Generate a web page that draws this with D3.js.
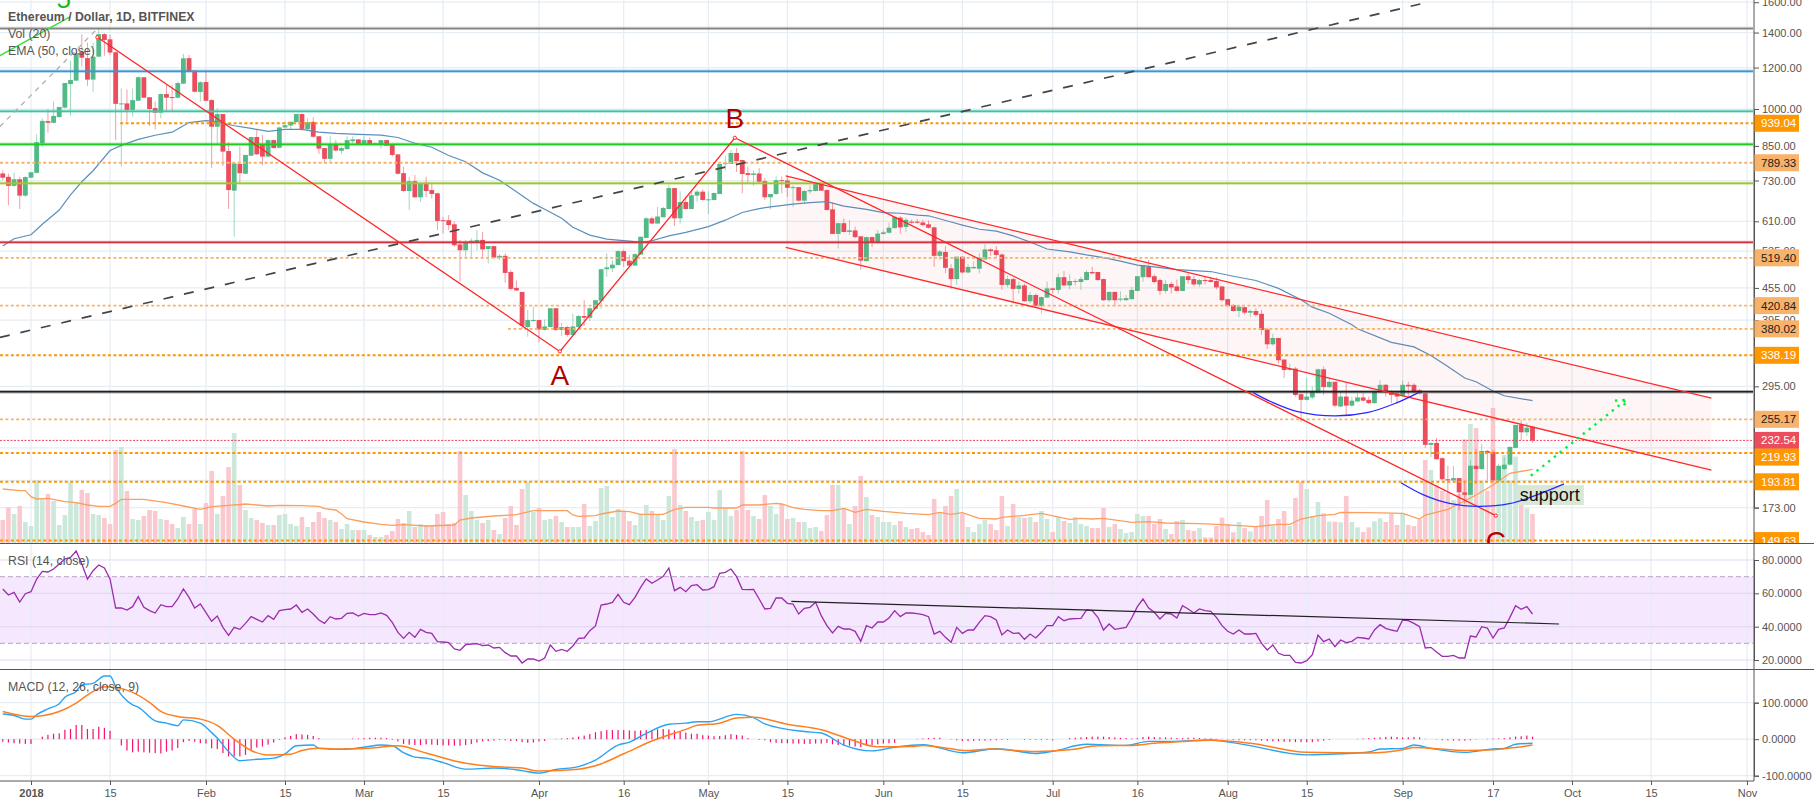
<!DOCTYPE html>
<html>
<head>
<meta charset="utf-8">
<title>Ethereum / Dollar, 1D, BITFINEX</title>
<script src="https://cdn.jsdelivr.net/npm/d3@7"></script>
<style>
    html, body { margin: 0; padding: 0; background: #fff; overflow: hidden; }
    text { font-family: "Liberation Sans", Arial, sans-serif; }
</style>
</head>
<body>
<svg id="canvas" width="1814" height="805"></svg>
<script>
// daily candles, first one is 5 days before 2018-01-01
const firstDay = -5;
const opens = [
    753,742,713,734,683,739,755,860,948,941,
    965,1006,1116,1133,1288,1251,1138,1259,1390,1359,
    1284,1022,1025,996,1037,1150,1053,1004,984,1068,
    1054,1051,1118,1251,1184,1078,1126,1040,925,978,
    831,698,785,752,814,884,857,811,872,843,
    922,930,944,978,915,945,887,842,803,857,
    832,838,868,875,855,872,855,856,872,853,
    819,754,697,728,678,723,700,690,613,613,
    602,551,537,556,556,562,540,547,520,524,
    488,455,447,383,394,395,378,383,416,378,
    383,370,383,402,399,415,430,494,496,503,
    535,513,502,527,567,618,604,621,644,706,
    618,664,644,683,695,670,670,688,785,785,
    824,799,754,748,753,728,678,688,731,730,
    707,709,668,696,697,719,700,643,577,605,
    582,586,571,512,569,555,577,580,592,620,
    595,609,609,607,602,594,524,533,496,473,
    522,487,496,495,516,539,537,527,461,473,
    453,460,429,441,420,436,454,451,477,460,
    467,467,471,488,488,473,431,447,432,431,
    433,449,477,500,479,471,449,463,458,449,
    479,473,462,471,471,469,458,433,422,411,
    418,408,411,406,379,355,365,332,317,319,
    285,278,281,287,318,294,301,270,282,271,
    276,281,278,274,288,297,287,286,283,297,
    297,290,286,228,230,215,196,195,197,185,
    183,208,205,222,221,195,205,209,225,249,
    241,247];
const highs = [
    764,753,756,742,744,757,894,960,999,1033,
    1009,1121,1237,1281,1389,1339,1339,1428,1396,1385,
    1288,1095,1090,1095,1156,1150,1053,1033,1071,1112,
    1112,1128,1275,1268,1187,1131,1184,1044,1003,978,
    864,789,847,817,885,914,892,875,872,925,
    947,947,978,981,960,964,887,842,887,872,
    847,887,887,875,887,882,862,872,872,857,
    819,776,742,748,723,742,719,692,622,627,
    610,562,562,566,587,582,547,547,528,530,
    492,470,447,413,419,396,396,416,416,390,
    385,406,404,431,418,432,494,530,514,537,
    539,526,530,570,622,623,650,650,716,706,
    696,679,696,700,702,696,692,785,813,835,
    842,799,776,764,771,738,688,743,743,745,
    715,710,700,715,726,719,702,663,606,618,
    613,596,571,570,570,587,587,606,624,624,
    620,615,616,614,612,596,537,547,505,522,
    522,505,511,530,552,541,547,530,480,476,
    468,464,447,444,438,468,455,485,490,483,
    474,478,492,499,488,474,448,448,448,441,
    457,479,503,515,483,474,471,467,472,479,
    484,479,473,478,478,477,458,434,424,422,
    419,414,416,413,381,372,365,332,326,321,
    286,306,295,319,322,306,301,288,299,282,
    286,287,282,290,303,298,290,288,303,301,
    299,292,287,230,235,216,208,208,197,195,
    213,224,229,223,223,210,216,226,249,254,
    251,247];
const lows = [
    731,655,710,644,679,737,753,847,901,939,
    963,1003,971,1131,1205,1107,1079,1259,1264,1268,
    872,776,946,967,1036,1048,928,914,960,991,
    988,1048,1116,1178,1075,1033,1033,772,853,778,
    644,570,719,751,813,817,781,809,841,841,
    920,912,942,909,912,881,820,791,791,829,
    820,837,860,854,854,854,852,841,850,811,
    750,695,641,677,665,679,674,587,578,587,
    545,468,518,518,537,518,507,518,514,466,
    450,449,380,367,392,358,377,383,377,368,
    367,369,380,385,393,414,415,478,488,503,
    499,501,501,526,566,602,604,621,643,598,
    604,643,643,665,668,630,668,688,764,785,
    758,690,723,713,721,670,643,685,690,679,
    650,665,660,688,696,697,641,577,541,581,
    574,566,493,511,545,553,575,578,590,578,
    581,604,604,596,591,499,514,486,453,461,
    485,485,495,485,514,524,520,451,456,425,
    444,428,425,419,406,435,444,444,458,452,
    460,451,470,485,470,430,428,420,428,430,
    432,448,467,476,464,441,444,444,448,448,
    464,458,457,462,466,452,429,419,410,400,
    404,400,401,370,348,353,326,306,316,282,
    252,277,279,286,284,293,269,269,259,270,
    275,276,273,273,287,282,274,274,282,282,
    286,284,225,216,214,195,184,194,171,176,
    183,192,204,195,194,194,204,208,225,233,
    237,230];
const closes = [
    739,713,734,683,741,757,864,949,941,970,
    1009,1121,1136,1278,1253,1138,1259,1390,1355,1282,
    1023,1025,996,1040,1150,1051,1000,984,1068,1051,
    1051,1121,1250,1180,1079,1125,1037,925,978,829,
    700,787,754,817,884,819,811,872,842,922,
    931,945,978,916,943,885,840,803,857,833,
    842,872,875,855,872,855,860,872,851,817,
    752,697,728,678,722,697,688,611,611,600,
    549,537,557,560,562,539,547,520,524,486,
    453,450,385,395,395,379,384,416,378,383,
    370,384,402,399,416,431,494,498,504,535,
    512,502,528,570,618,604,623,647,706,618,
    664,644,684,695,670,672,691,785,788,824,
    795,751,748,753,726,678,688,731,728,707,
    709,668,697,700,719,698,641,577,605,582,
    586,569,513,569,555,578,581,593,622,594,
    614,606,606,600,593,524,534,497,473,522,
    487,499,499,520,539,535,526,461,473,453,
    460,429,441,420,437,454,451,477,460,469,
    469,473,488,485,471,431,447,431,434,435,
    451,479,503,477,467,449,463,456,449,479,
    471,462,471,469,467,456,431,420,411,419,
    408,411,404,378,355,365,331,317,319,284,
    278,282,289,318,294,301,271,282,271,277,
    281,277,274,289,297,288,284,282,297,295,
    288,286,228,230,214,196,195,197,185,183,
    208,205,222,220,195,208,209,226,249,241,
    246,232.54];
const volumes = [
    69,107,87,111,63,51,189,131,147,126,
    54,84,183,123,159,150,87,84,75,57,
    279,288,156,72,69,81,99,96,72,69,
    57,45,78,57,102,57,120,216,87,141,
    228,330,174,99,75,69,60,54,54,84,
    87,57,51,78,48,63,93,75,69,63,
    42,57,39,39,39,24,18,18,24,36,
    72,60,96,48,57,54,51,87,93,57,
    60,276,144,96,69,60,69,39,27,75,
    111,54,162,183,93,105,69,72,81,63,
    48,48,48,117,51,66,165,171,78,102,
    96,66,54,87,114,96,87,69,141,282,
    114,96,78,66,69,93,69,159,102,81,
    99,276,99,81,72,144,111,87,117,72,
    75,63,63,45,48,36,84,174,174,102,
    57,111,201,138,84,78,63,63,54,66,
    48,42,45,33,24,132,90,111,141,162,
    87,48,33,57,69,57,39,141,51,117,
    78,75,78,63,96,72,33,78,66,60,
    78,57,51,45,45,105,48,57,42,30,
    33,87,81,81,57,72,42,27,66,69,
    39,36,45,17,17,51,76,57,32,63,
    45,35,49,81,129,52,72,96,51,135,
    183,162,81,123,89,64,64,62,141,63,
    47,33,47,65,74,63,87,54,87,54,
    51,71,249,219,174,157,149,129,147,311,
    357,345,184,157,405,204,264,187,259,144,
    104,87];
const rsiValues = [
    62.6,59,60.6,54.8,59.8,61,68.6,73.2,72.8,74.6,
    77.6,80.6,81.6,85.4,77.6,68.6,73.6,77,75.2,68.6,
    51.2,51.2,50,52,58,51.6,49.6,48.2,53.2,52,
    52,56.6,62.6,57.6,51.2,53.6,48.4,43.2,46.4,39.6,
    34.8,39.6,38.4,42,46,44.4,42.8,46.6,44.4,49.6,
    50.2,50.6,53,48.6,50.6,47.6,44,42,46,44.6,
    45,48,48.2,46.4,48,47.2,47.2,48.2,46.8,42.6,
    36.6,33,36.6,33.6,38.4,36.6,36,31,30.8,30.4,
    26.6,25.8,29.2,29.6,29.8,28.6,29,27.2,27.6,24.4,
    22.4,22.4,18.2,20.6,20.6,19.4,21.2,29,25.2,26.4,
    25.2,28.4,33,33.2,37.6,40.4,53,53.6,54.6,59.4,
    54.6,53.2,57.6,63.6,68.6,66,68,70.2,75.2,61.6,
    63.6,61,64.6,65.2,62,62.2,64,72,72.6,74.6,
    70,62.4,62.2,62.4,56.6,50.6,51,57.2,57.2,54,
    53.6,47.6,51,51.6,54.6,46.6,40.6,36.2,40.2,38.6,
    38.6,37.2,31.2,40.6,39.2,42.8,42.8,45.2,49.6,46,
    48.2,48.2,47.8,47.2,46,35.6,37.2,33.6,30.6,39.6,
    36,38,38,42.6,46.6,46,44,35,38,36,
    36.2,32.4,35.6,33.2,36.6,40.6,40.6,46,43.6,44.6,
    44.8,45,50,49.6,45.6,38,41.6,38.4,39,39.6,
    45.2,52,56.6,51.2,48.6,44.6,48,47.6,45.2,52.6,
    50.6,48.2,50.6,49.6,49.2,45.6,40.6,37.2,35.6,38,
    35.6,35.6,36,30,26,29,24,22.8,22.8,18.6,
    18.2,19.6,23.2,35,31,32.6,28,32,30.4,31.2,
    33.6,33.2,32.6,38,41.2,39,38,37.2,44,43.6,
    42,40,27.2,27.6,24.8,22.2,22.2,22.8,21.2,21.2,
    34.4,33.8,40,39.2,33.2,38.4,39.2,45.6,52.6,50.4,
    52,47.6];
const macdHist = [
    -7,-9,-11,-12,-13,-13,0,7,12,15,
    16,26,28,39,39,28,28,34,31,23,
    0,-17,-31,-36,-34,-36,-37,-38,-39,-34,
    -31,-24,-8,-5,-7,-11,-12,-25,-27,-38,
    -47,-47,-47,-43,-29,-23,-20,-15,-9,-2,
    5,9,14,13,12,9,3,0,0,0,
    0,0,2,2,3,4,4,4,3,-2,
    -6,-13,-15,-16,-16,-14,-15,-16,-17,-17,
    -18,-18,-16,-13,-9,-6,-5,-4,-2,-3,
    -5,-5,-8,-10,-9,-6,-5,0,1,2,
    3,5,7,10,14,19,22,25,25,25,
    25,24,23,24,25,25,27,28,27,24,
    21,18,15,15,11,10,8,9,11,14,
    12,10,3,0,-2,-3,-8,-10,-11,-11,
    -12,-12,-13,-13,-12,-12,-10,-14,-16,-17,
    -18,-20,-22,-18,-16,-14,-12,-11,-10,0,
    0,0,1,2,3,4,4,0,-1,-3,
    -5,-5,-5,-4,-4,-3,-3,-2,-2,0,
    0,-2,-2,-2,-2,-2,-3,0,0,3,
    4,5,6,7,7,7,6,5,4,3,
    2,3,6,7,6,5,5,4,3,3,
    4,4,3,2,2,1,1,-1,-2,-3,
    -3,-3,-3,-4,-5,-6,-6,-7,-7,-8,
    -8,-8,-8,-6,-4,-2,0,0,0,0,
    1,2,3,4,5,6,7,6,5,5,
    6,5,1,0,-1,-3,-3,-4,-4,-4,
    -3,-1,0,1,2,2,3,5,7,8,
    10,7];

// smooth lines, read at their bends
const emaDays = [-5,-3,0,2,5,7,9,11,14,16,19,22,25,28,31,33,36,39,42,45,48,51,54,58,62,65,68,71,74,77,80,83,86,89,91,94,96,99,102,106,108,110,113,116,120,123,126,129,131,135,138,141,144,148,151,154,157,159,163,165,168,171,174,177,180,184,187,190,193,196,199,203,209,213,217,221,225,227,230,234,235,241,245,248,251,254,256,259,261,266];
const emaValues = [547,565,575,602,641,685,726,762,833,852,875,891,903,942,950,946,929,918,906,914,914,903,898,894,891,882,860,845,815,793,755,731,695,660,643,618,594,574,564,559,556,560,572,581,596,613,634,645,650,658,662,665,652,643,634,632,627,625,608,600,589,584,572,557,540,533,526,520,512,503,499,493,489,479,470,454,432,418,407,387,380,358,351,338,322,306,301,289,283,277];
const volMaDays = [-5,-2,-1,0,1,3,6,8,10,12,14,15,16,20,24,27,30,32,35,38,42,44,48,51,52,54,55,56,59,62,64,66,70,75,76,78,82,86,89,95,96,97,100,101,104,106,108,112,114,116,120,121,125,126,129,132,133,135,137,140,142,144,146,148,151,155,159,161,163,165,168,171,172,176,179,184,186,188,190,195,198,201,207,211,217,221,223,225,228,231,232,237,243,246,247,251,256,259,262,266];
const volMaValues = [162,157,157,139,132,134,124,121,114,110,110,119,131,131,121,111,101,109,113,117,111,113,112,110,103,99,87,73,63,56,53,55,51,54,69,75,81,85,97,97,84,80,82,87,96,94,86,86,101,107,107,105,105,114,114,119,117,106,101,97,97,104,92,101,95,89,85,92,86,91,74,72,77,83,89,71,74,72,74,62,64,60,58,55,49,56,56,72,82,86,92,91,89,72,84,101,144,174,209,221];
const macdDays = [-5,-3,-1,0,1,3,5,6,8,9,11,13,14,15,18,19,22,24,26,27,30,32,33,35,37,40,43,45,47,50,51,55,59,62,64,66,68,70,73,77,82,87,90,93,97,100,104,106,109,113,116,118,120,125,128,130,137,140,144,149,153,158,165,171,178,181,187,194,198,202,209,215,226,232,237,239,243,245,248,254,259,261,263,266];
const macdValues = [69,65,55,55,67,83,97,115,131,149,153,173,173,144,94,88,50,44,37,53,44,18,3,-34,-59,-55,-52,-40,-18,-16,-25,-28,-22,-16,-18,-37,-49,-52,-64,-82,-79,-86,-93,-83,-75,-57,-16,-8,16,41,44,48,48,68,59,42,21,17,-16,-32,-22,-15,-37,-26,-39,-33,-14,-17,-6,-6,-2,-15,-43,-40,-35,-27,-25,-16,-25,-36,-27,-25,-14,-11];
const signalDays = [-5,0,5,8,10,13,15,21,23,26,30,33,36,39,42,46,48,51,55,60,65,70,77,82,87,90,97,100,105,110,116,118,122,125,128,134,140,145,150,156,158,166,170,178,184,189,195,199,204,209,216,226,237,243,245,248,254,259,261,263,266];
const signalValues = [76,62,76,99,121,144,142,101,76,62,55,38,0,-31,-43,-41,-31,-25,-27,-25,-18,-38,-66,-75,-79,-87,-82,-73,-40,-5,27,38,44,58,60,41,26,0,-21,-20,-17,-31,-27,-34,-29,-18,-17,-11,-6,-3,-11,-36,-38,-29,-23,-25,-31,-29,-26,-23,-16];

// axis labels
const priceTicks = [1600,1400,1200,1000,850,730,610,535,455,395,295,173];
const hiddenPriceGrid = [225,195];
const rsiTicks = [80,60,40,20];
const macdTicks = [100,0,-100];
const timeTickDates = ["2018-01-01","2018-01-15","2018-02-01","2018-02-15","2018-03-01","2018-03-15","2018-04-01","2018-04-16","2018-05-01","2018-05-15","2018-06-01","2018-06-15","2018-07-01","2018-07-16","2018-08-01","2018-08-15","2018-09-01","2018-09-17","2018-10-01","2018-10-15","2018-11-01"];
const timeTickLabels = ["2018","15","Feb","15","Mar","15","Apr","16","May","15","Jun","15","Jul","16","Aug","15","Sep","17","Oct","15","Nov"];

// drawn levels and trend lines, [day, price]
const solidLevels = [1426,1181,990,856,721,556,288];
const solidColors = ["#858585","#3a96d6","#3cc7a4","#22c922","#9ac92e","#d63340","#222222"];
const darkLevels = [939.04,338.19,219.93,193.81,149.63];
const lightLevels = [789.33,519.40,420.84,380.02,255.17];
const levelStarts = {939.04: 15.8, 380.02: 84.5};
const abcLine = [[11.75,1371],[93.7,344],[124.7,881],[259.5,167]];
const channelTop = [[133.7,745],[297.7,280]];
const channelBottom = [[133.7,544],[297.7,204]];
const blackDash = [[-5.5,366],[247.8,1603]];
const grayDash = [[-5.5,926],[11.6,1418]];
const greenLine = [[-5.5,1265],[6.9,1500]];
const arcOne = [[216.5,287],[219.6,276],[224.4,264],[231,259],[236.9,263],[241.8,274],[245.8,287]];
const arcTwo = [[242.7,193],[246.7,183],[251.5,176],[256.4,174],[261.9,176],[266.8,183],[271.6,192]];
const arrowLine = [[265.7,199],[282.6,278]];
const arrowHead = [[280.6,277],[282.6,278],[282,267]];
const rsiTrend = [[134.7,55.2],[270.7,41.6]];
const waveLabels = [["A",93.7,297],["B",124.7,919],["C",259.5,143]];

const canvas = d3.select("#canvas");
const base = Date.UTC(2018, 0, 1);
const dayDate = (d) => new Date(base + d * 864e5);
const rightEdge = 1754;
const candles = opens.map((o, i) => ({
    day: firstDay + i, open: o, high: highs[i], low: lows[i], close: closes[i],
    volume: volumes[i], rsi: rsiValues[i], hist: macdHist[i],
}));

const x = d3.scaleUtc().domain([new Date(base), new Date(Date.UTC(2018, 10, 1))]).range([31, 1747]);
const xDay = (d) => x(dayDate(d));
const yPrice = d3.scaleLog().domain([1000, 173]).range([109, 507.6]);
const yVol = d3.scaleLinear().domain([0, 480]).range([543, 383]);
const yRsi = d3.scaleLinear().domain([80, 20]).range([560, 660]);
const yMacd = d3.scaleLinear().domain([100, -100]).range([702.7, 775.7]);

const gridColor = "#e6edf3";
const axisColor = "#555";
const textColor = "#555";
const upColor = "#53b987";
const downColor = "#eb4d5c";

const defs = canvas.append("defs");
defs.append("clipPath").attr("id", "main").append("rect").attr("width", rightEdge - 1).attr("height", 543);
defs.append("clipPath").attr("id", "rsi").append("rect").attr("y", 544).attr("width", rightEdge - 1).attr("height", 125);
defs.append("clipPath").attr("id", "macd").append("rect").attr("y", 670).attr("width", rightEdge - 1).attr("height", 111);
defs.append("clipPath").attr("id", "labels").append("rect").attr("x", rightEdge).attr("width", 60).attr("height", 543);

// rsi band sits under the grid
canvas.append("rect").attr("x", 0).attr("width", rightEdge)
    .attr("y", yRsi(70)).attr("height", yRsi(30) - yRsi(70))
    .attr("fill", "#f4e7fe");

// grid
const grid = canvas.append("g").attr("stroke", gridColor).attr("stroke-width", 1.2);
grid.selectAll(".v").data(timeTickDates).enter().append("line")
    .attr("x1", (d) => x(new Date(d + "T00:00:00Z"))).attr("x2", (d) => x(new Date(d + "T00:00:00Z")))
    .attr("y1", 0).attr("y2", 781);
grid.selectAll(".p").data(priceTicks.concat(hiddenPriceGrid)).enter().append("line")
    .attr("x1", 0).attr("x2", rightEdge).attr("y1", (d) => yPrice(d)).attr("y2", (d) => yPrice(d));
grid.selectAll(".r").data(rsiTicks).enter().append("line")
    .attr("x1", 0).attr("x2", rightEdge).attr("y1", (d) => yRsi(d)).attr("y2", (d) => yRsi(d))
    .attr("stroke", "#e2daf4");
grid.selectAll(".m").data(macdTicks).enter().append("line")
    .attr("x1", 0).attr("x2", rightEdge).attr("y1", (d) => yMacd(d)).attr("y2", (d) => yMacd(d));

// main pane
const main = canvas.append("g").attr("clip-path", "url(#main)");

main.selectAll(".vol").data(candles).enter().append("rect")
    .attr("x", (d) => xDay(d.day) - 2.3)
    .attr("width", 4.6)
    .attr("y", (d) => yVol(d.volume))
    .attr("height", (d) => yVol(0) - yVol(d.volume))
    .attr("fill", (d) => d.close >= d.open ? "#cbe8da" : "#fac9cf");

const volMaLine = d3.line().x((d, i) => xDay(volMaDays[i])).y((d) => yVol(d));
main.append("path").datum(volMaValues).attr("d", volMaLine)
    .attr("fill", "none").attr("stroke", "#fb9e5e").attr("stroke-width", 1.3);

main.selectAll(".wick").data(candles).enter().append("line")
    .attr("x1", (d) => xDay(d.day)).attr("x2", (d) => xDay(d.day))
    .attr("y1", (d) => yPrice(d.high)).attr("y2", (d) => yPrice(d.low))
    .attr("stroke", (d) => d.close >= d.open ? upColor : downColor)
    .attr("stroke-opacity", 0.55);
main.selectAll(".body").data(candles).enter().append("rect")
    .attr("x", (d) => xDay(d.day) - 2.4)
    .attr("width", 4.8)
    .attr("y", (d) => yPrice(Math.max(d.open, d.close)))
    .attr("height", (d) => Math.max(1, Math.abs(yPrice(d.open) - yPrice(d.close))))
    .attr("fill", (d) => d.close >= d.open ? upColor : downColor);

const emaLine = d3.line().x((d, i) => xDay(emaDays[i])).y((d) => yPrice(d));
main.append("path").datum(emaValues).attr("d", emaLine)
    .attr("fill", "none").attr("stroke", "#5a90bd").attr("stroke-width", 1.2);

// channel
const pointLine = d3.line().x((d) => xDay(d[0])).y((d) => yPrice(d[1]));
main.append("path")
    .attr("d", pointLine(channelTop.concat(channelBottom.slice().reverse())) + "Z")
    .attr("fill", "#e03030").attr("fill-opacity", 0.045);

// levels
solidLevels.forEach((level, i) => {
    main.append("line").attr("x1", 0).attr("x2", rightEdge).attr("y1", yPrice(level)).attr("y2", yPrice(level))
        .attr("stroke", solidColors[i]).attr("stroke-opacity", 0.35).attr("stroke-width", 3.4);
    main.append("line").attr("x1", 0).attr("x2", rightEdge).attr("y1", yPrice(level)).attr("y2", yPrice(level))
        .attr("stroke", solidColors[i]).attr("stroke-width", 1.5);
});
darkLevels.concat(lightLevels).forEach((level) => {
    const dark = darkLevels.includes(level);
    const start = level in levelStarts ? xDay(levelStarts[level]) : 0;
    main.append("line").attr("x1", start).attr("x2", rightEdge).attr("y1", yPrice(level)).attr("y2", yPrice(level))
        .attr("stroke", dark ? "#ff9800" : "#f8b26a").attr("stroke-width", dark ? 2 : 1.8)
        .attr("stroke-dasharray", "3,2.4");
});
main.append("line").attr("x1", 0).attr("x2", rightEdge).attr("y1", yPrice(232.54)).attr("y2", yPrice(232.54))
    .attr("stroke", "#f0405a").attr("stroke-dasharray", "2,1.5");

// support tag, the arc runs over its box
const supportBox = main.append("g")
    .attr("transform", `translate(${xDay(263.4)},${yPrice(191)})`);
supportBox.append("rect").attr("width", 66).attr("height", 20).attr("fill", "#d9e8d6");

// trend lines
const drawLine = (points, color, width, dash) => main.append("path")
    .attr("d", pointLine(points)).attr("fill", "none")
    .attr("stroke", color).attr("stroke-width", width).attr("stroke-dasharray", dash);
drawLine(blackDash, "#444", 1.7, "10,11");
drawLine(grayDash, "#aaa", 1.2, "5,5");
drawLine(greenLine, "#33e233", 1.3);
drawLine(channelTop, "#ff2b2b", 1.3);
drawLine(channelBottom, "#ff2b2b", 1.3);
drawLine(abcLine, "#ff2424", 1.3);
drawLine(arrowLine, "#00f03c", 2.4, "2.4,5");
drawLine(arrowHead, "#00f03c", 2.4, "2.4,5");

const curveLine = d3.line().curve(d3.curveCatmullRom).x((d) => xDay(d[0])).y((d) => yPrice(d[1]));
[arcOne, arcTwo].forEach((arc) => {
    main.append("path").attr("d", curveLine(arc)).attr("fill", "none")
        .attr("stroke", "#2a2aff").attr("stroke-width", 1.3);
});

main.selectAll(".abc").data(abcLine).enter().append("circle")
    .attr("cx", (d) => xDay(d[0])).attr("cy", (d) => yPrice(d[1])).attr("r", 1.6)
    .attr("fill", "#fff").attr("stroke", "#ff2424");

main.selectAll(".wave").data(waveLabels).enter().append("text")
    .attr("x", (d) => xDay(d[1])).attr("y", (d) => yPrice(d[2]))
    .attr("text-anchor", "middle").attr("font-size", 28).attr("fill", "#b30000")
    .text((d) => d[0]);
main.append("text").attr("x", xDay(5.8)).attr("y", 8).attr("text-anchor", "middle")
    .attr("font-size", 26).attr("fill", "#16b816").text("5");
main.append("text").attr("x", xDay(263.4) + 2).attr("y", yPrice(191) + 16)
    .attr("font-size", 18).attr("fill", "#111").text("support");

// rsi pane
const rsiPane = canvas.append("g").attr("clip-path", "url(#rsi)");
[70, 30].forEach((level) => {
    rsiPane.append("line").attr("x1", 0).attr("x2", rightEdge).attr("y1", yRsi(level)).attr("y2", yRsi(level))
        .attr("stroke", "#b9a6bf").attr("stroke-dasharray", "5,3");
});
const rsiLine = d3.line().x((d) => xDay(d.day)).y((d) => yRsi(d.rsi));
rsiPane.append("path").datum(candles).attr("d", rsiLine)
    .attr("fill", "none").attr("stroke", "#9c2bad").attr("stroke-width", 1.3);
rsiPane.append("path")
    .attr("d", d3.line().x((d) => xDay(d[0])).y((d) => yRsi(d[1]))(rsiTrend))
    .attr("stroke", "#222").attr("stroke-width", 1.2);

// macd pane
const macdPane = canvas.append("g").attr("clip-path", "url(#macd)");
macdPane.selectAll(".hist").data(candles).enter().append("rect")
    .attr("x", (d) => xDay(d.day) - 0.6)
    .attr("width", 1.2)
    .attr("y", (d) => Math.min(yMacd(d.hist), yMacd(0)))
    .attr("height", (d) => Math.abs(yMacd(d.hist) - yMacd(0)))
    .attr("fill", "#f5116e");
const signalLine = d3.line().curve(d3.curveMonotoneX).x((d, i) => xDay(signalDays[i])).y((d) => yMacd(d));
const macdLine = d3.line().curve(d3.curveMonotoneX).x((d, i) => xDay(macdDays[i])).y((d) => yMacd(d));
macdPane.append("path").datum(macdValues).attr("d", macdLine)
    .attr("fill", "none").attr("stroke", "#2aa3f2").attr("stroke-width", 1.4);
macdPane.append("path").datum(signalValues).attr("d", signalLine)
    .attr("fill", "none").attr("stroke", "#ff7f1e").attr("stroke-width", 1.5);

// axes
const styleAxis = (g) => {
    g.selectAll("path,line").attr("stroke", axisColor);
    g.selectAll("text").attr("fill", textColor).attr("font-size", 11)
        .style("font-family", '"Liberation Sans", Arial, sans-serif');
};
canvas.append("g").attr("transform", `translate(${rightEdge},0)`)
    .call(d3.axisRight(yPrice).tickValues(priceTicks).tickSizeOuter(0).tickSize(5).tickPadding(3)
        .tickFormat((d) => d.toFixed(2))).call(styleAxis);
canvas.append("g").attr("transform", `translate(${rightEdge},0)`)
    .call(d3.axisRight(yRsi).tickValues(rsiTicks).tickSizeOuter(0).tickSize(5).tickPadding(3)
        .tickFormat((d) => d.toFixed(4))).call(styleAxis);
canvas.append("g").attr("transform", `translate(${rightEdge},0)`)
    .call(d3.axisRight(yMacd).tickValues(macdTicks).tickSizeOuter(0).tickSize(5).tickPadding(3)
        .tickFormat((d) => d.toFixed(4))).call(styleAxis);

// price tags
const tagPrices = [939.04,789.33,519.40,420.84,380.02,338.19,255.17,232.54,219.93,193.81,149.63];
const tagShift = {219.93: 4, 149.63: 0};
const tagLayer = canvas.append("g").attr("clip-path", "url(#labels)");
tagPrices.forEach((price) => {
    const center = yPrice(price) + (tagShift[price] || 0);
    const dark = darkLevels.includes(price);
    const last = price === 232.54;
    const fill = last ? "#eb4d5c" : dark ? "#ff9800" : "#f8b26a";
    tagLayer.append("rect").attr("x", rightEdge).attr("y", center - 8.5).attr("width", 45).attr("height", 17).attr("fill", fill);
    tagLayer.append("text").attr("x", rightEdge + 7).attr("y", center + 4).attr("font-size", 11.5)
        .attr("fill", last || dark ? "#fff" : "#222").text(price.toFixed(2));
});

// frame
canvas.append("line").attr("x1", rightEdge).attr("x2", rightEdge).attr("y1", 0).attr("y2", 781).attr("stroke", axisColor);
[543.5, 669.5].forEach((y) => {
    canvas.append("line").attr("x1", 0).attr("x2", 1814).attr("y1", y).attr("y2", y).attr("stroke", axisColor);
});

const timeAxis = canvas.append("g").attr("transform", "translate(0,781)")
    .call(d3.axisBottom(x)
        .tickValues(timeTickDates.map((d) => new Date(d + "T00:00:00Z")))
        .tickSizeOuter(0).tickSize(4).tickPadding(4)
        .tickFormat((d, i) => timeTickLabels[i]))
    .call(styleAxis);
timeAxis.select(".domain").attr("d", `M0,0H${rightEdge}`);
timeAxis.selectAll("text").filter((d, i) => i === 0).attr("font-weight", "bold");

// legends
const legend = [
    ["Ethereum / Dollar, 1D, BITFINEX", 21, "bold"],
    ["Vol (20)", 38, "normal"],
    ["EMA (50, close)", 55, "normal"],
    ["RSI (14, close)", 565, "normal"],
    ["MACD (12, 26, close, 9)", 691, "normal"],
];
canvas.selectAll(".legend").data(legend).enter().append("text")
    .attr("x", 8).attr("y", (d) => d[1]).attr("font-size", 12.3).attr("font-weight", (d) => d[2])
    .attr("fill", textColor).text((d) => d[0]);
</script>
</body>
</html>
